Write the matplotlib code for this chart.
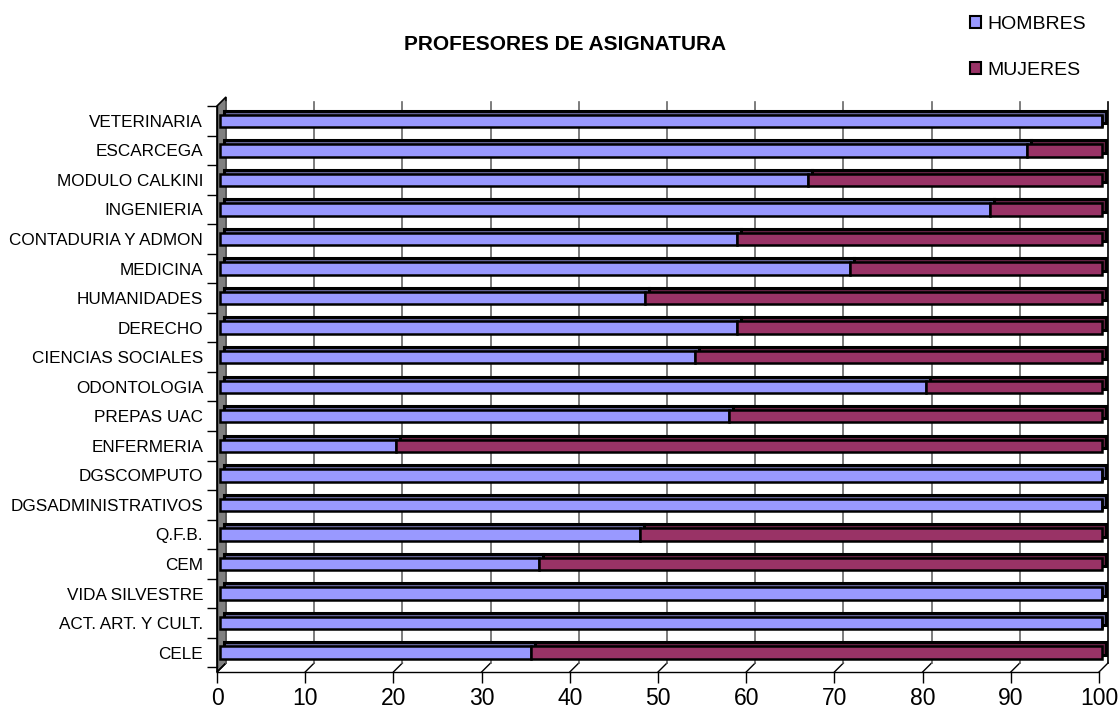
import matplotlib
matplotlib.use("Agg")
import matplotlib.pyplot as plt
import numpy as np
from matplotlib.transforms import offset_copy, IdentityTransform
from matplotlib.patches import Polygon, Patch
from matplotlib.lines import Line2D

plt.rcParams['font.family'] = ['Liberation Sans', 'DejaVu Sans']

categories = ["CELE", "ACT. ART. Y CULT.", "VIDA SILVESTRE", "CEM", "Q.F.B.",
              "DGSADMINISTRATIVOS", "DGSCOMPUTO", "ENFERMERIA", "PREPAS UAC",
              "ODONTOLOGIA", "CIENCIAS SOCIALES", "DERECHO", "HUMANIDADES",
              "MEDICINA", "CONTADURIA Y ADMON", "INGENIERIA", "MODULO CALKINI",
              "ESCARCEGA", "VETERINARIA"]
hombres = [35.3, 100, 100, 36.2, 47.6, 100, 100, 20.0, 57.7, 80.0, 53.8,
           58.6, 48.2, 71.4, 58.6, 87.3, 66.7, 91.5, 100]
mujeres = [100 - h for h in hombres]
series_names = ["HOMBRES", "MUJERES"]
colors = ["#9999FF", "#993366"]
dark_colors = ["#666699", "#662244"]
xticks = list(range(0, 101, 10))

W, H = 1120, 715
fig = plt.figure(figsize=(W / 100, H / 100), dpi=100)
ax_left, ax_right, ax_top, ax_bot = 217, 1099, 106, 672
ax = fig.add_axes([ax_left / W, 1 - ax_bot / H, (ax_right - ax_left) / W, (ax_bot - ax_top) / H])
ax.set_facecolor('none')
ax.set_xlim(0, 100)
ylo, yhi = -0.654, 18.335
ax.set_ylim(ylo, yhi)

DX, DY = 9, 9  # depth offset (pixels)

# back-wall gridlines
grid_tr = offset_copy(ax.transData, fig=fig, x=DX, y=DY, units='dots')
for v in xticks:
    ax.plot([v, v], [ylo, yhi], color='black' if v == 100 else '#666666',
            lw=1.2, transform=grid_tr, zorder=0.5, clip_on=False)

y = np.arange(len(categories))
bh = 0.42
bar_tr = offset_copy(ax.transData, fig=fig, x=3, y=0, units='dots')
back_tr = offset_copy(ax.transData, fig=fig, x=3 + 4, y=4, units='dots')
left = np.zeros(len(categories))
for vals, c, dc in zip([hombres, mujeres], colors, dark_colors):
    ax.barh(y, vals, left=left, height=bh, color=dc, edgecolor='black',
            linewidth=2.2, transform=back_tr, zorder=2, clip_on=False)
    left = left + np.array(vals)
left = np.zeros(len(categories))
for vals, c in zip([hombres, mujeres], colors):
    ax.barh(y, vals, left=left, height=bh, color=c, edgecolor='black',
            linewidth=1.8, transform=bar_tr, zorder=3, clip_on=False)
    left = left + np.array(vals)

fig.canvas.draw()

def disp(xv, yv):
    return ax.transData.transform((xv, yv))

# left wall
p0 = disp(0, ylo); p1 = disp(0, yhi)
wall = Polygon([p0, p0 + [DX, DY], p1 + [DX, DY], p1], closed=True,
               facecolor='#808080', edgecolor='black', lw=1.2,
               transform=IdentityTransform(), zorder=-1)
fig.add_artist(wall)
# floor diagonals
for v in xticks:
    a = disp(v, ylo)
    fig.add_artist(Line2D([a[0], a[0] + DX], [a[1], a[1] + DY], color='black',
                          lw=1.0, transform=IdentityTransform(), zorder=-1))

# spines/ticks
for s in ['top', 'right']:
    ax.spines[s].set_visible(False)
ax.spines['bottom'].set_linewidth(1.0)
ax.spines['left'].set_linewidth(1.0)
ax.set_xticks(xticks)
ax.set_xticklabels([str(v) for v in xticks], fontsize=16.5)
ax.tick_params(axis='x', length=8, width=1, direction='out', pad=3)
ax.set_yticks(y)
ax.set_yticklabels(categories, fontsize=12.3)
ax.tick_params(axis='y', length=0, pad=10)
ax.set_yticks(np.arange(-0.5, len(categories), 1), minor=True)
ax.tick_params(axis='y', which='minor', length=7, width=1)

fig.text(565 / W, 1 - 45 / H, "PROFESORES DE ASIGNATURA", fontsize=15,
         fontweight='bold', ha='center', va='center')

handles = [Patch(facecolor=c, edgecolor='black', lw=1.5) for c in colors]
fig.legend(handles, series_names, loc='upper left', bbox_to_anchor=(962 / W, 1 - 8 / H),
           frameon=False, fontsize=14, handlelength=0.6, handleheight=0.6,
           handletextpad=0.3, labelspacing=1.5, borderaxespad=0)

fig.savefig("out.png", dpi=100)
